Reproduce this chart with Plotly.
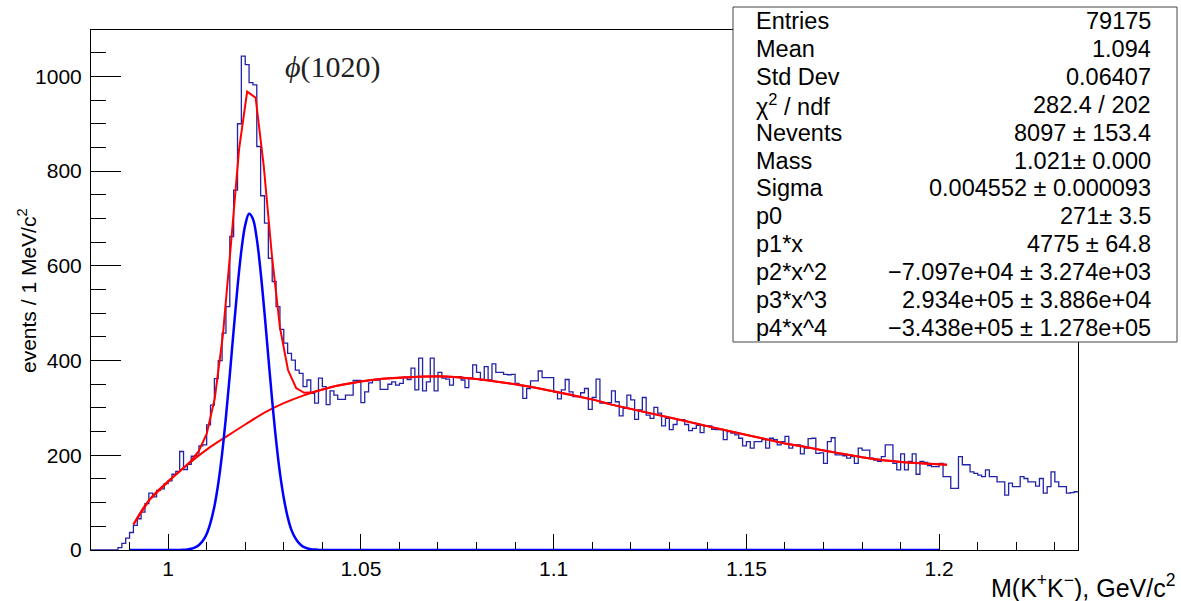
import plotly.graph_objects as go

# ---- histogram: M(K+K-) in 1 MeV bins from 0.980 to 1.236 GeV ----
BIN_LO = 0.980
BIN_W = 0.001
COUNTS = [
    0, 0, 0, 0, 0, 0, 0, 5, 14, 25,
    37, 52, 66, 80, 98, 120, 112, 126, 129, 140,
    146, 160, 166, 208, 170, 181, 198, 200, 220, 222,
    264, 306, 362, 400, 458, 514, 662, 760, 900, 1043,
    1025, 987, 982, 852, 748, 690, 616, 567, 514, 466,
    437, 415, 401, 380, 373, 345, 359, 331, 310, 363,
    345, 307, 336, 327, 318, 318, 327, 327, 358, 358,
    311, 334, 353, 359, 359, 339, 339, 350, 355, 348,
    352, 365, 360, 384, 338, 405, 336, 355, 405, 336,
    375, 363, 361, 348, 366, 366, 359, 343, 363, 391,
    375, 359, 387, 359, 393, 375, 375, 371, 370, 371,
    352, 347, 320, 341, 357, 357, 378, 364, 364, 364,
    334, 319, 338, 360, 334, 324, 324, 332, 341, 297,
    322, 361, 310, 311, 311, 336, 313, 283, 299, 327,
    317, 276, 296, 322, 285, 278, 301, 289, 262, 278,
    254, 265, 275, 275, 265, 252, 257, 263, 248, 262,
    262, 255, 254, 254, 233, 250, 247, 243, 236, 220,
    229, 215, 229, 229, 233, 215, 236, 233, 222, 229,
    240, 215, 222, 222, 203, 215, 235, 236, 204, 205,
    183, 229, 237, 201, 201, 199, 194, 197, 183, 215,
    211, 211, 194, 190, 187, 197, 222, 222, 183, 169,
    203, 169, 187, 203, 160, 187, 185, 178, 176, 176,
    183, 155, 155, 130, 130, 197, 180, 180, 165, 162,
    158, 155, 169, 155, 155, 144, 144, 116, 141, 134,
    134, 155, 151, 144, 144, 135, 151, 120, 134, 165,
    144, 134, 134, 120, 121, 123,
]

# ---- total fit (red), sampled like the original function ----
FIT_X = [
    0.9910, 0.9931, 0.9952, 0.9973, 0.9994, 1.0016, 1.0037, 1.0058, 1.0079, 1.0100,
    1.0121, 1.0142, 1.0163, 1.0184, 1.0205, 1.0227, 1.0248, 1.0269, 1.0290, 1.0311,
    1.0332, 1.0353, 1.0374, 1.0395, 1.0416, 1.0438, 1.0459,
    1.050, 1.055, 1.060, 1.065, 1.070, 1.075, 1.080, 1.085, 1.090, 1.095,
    1.100, 1.105, 1.110, 1.115, 1.120, 1.125, 1.130, 1.135, 1.140, 1.145,
    1.150, 1.155, 1.160, 1.165, 1.170, 1.175, 1.180, 1.185, 1.190, 1.195,
    1.200, 1.202,
]
FIT_Y = [
    54, 81, 106, 123, 140, 156, 171, 187, 208, 245,
    320, 453, 646, 846, 968, 955, 811, 624, 470, 380,
    342, 332, 333, 337, 342, 347, 350,
    356, 361, 364, 366, 367, 365, 361, 356, 350, 343,
    335, 327, 318, 307, 298, 289, 280, 271, 261, 252,
    243, 234, 225, 218, 210, 203, 196, 190, 186, 183,
    181, 180,
]

# ---- background polynomial (red) ----
BKG_X = [
    0.991, 0.995, 1.000, 1.005, 1.010, 1.015, 1.020, 1.025, 1.030, 1.035,
    1.040, 1.045, 1.050, 1.055, 1.060, 1.065, 1.070, 1.075, 1.080, 1.085,
    1.090, 1.095, 1.100, 1.105, 1.110, 1.115, 1.120, 1.125, 1.130, 1.135,
    1.140, 1.145, 1.150, 1.155, 1.160, 1.165, 1.170, 1.175, 1.180, 1.185,
    1.190, 1.195, 1.200, 1.202,
]
BKG_Y = [
    54, 105, 145, 180, 212, 239, 265, 290, 310, 326,
    339, 349, 356, 361, 364, 366, 367, 365, 361, 356,
    350, 343, 335, 327, 318, 307, 298, 289, 280, 271,
    261, 252, 243, 234, 225, 218, 210, 203, 196, 190,
    186, 183, 181, 180,
]

# ---- signal gaussian (blue) ----
SIG_X = [
    0.990, 1.000, 1.003, 1.004, 1.005, 1.006, 1.007, 1.008, 1.009, 1.010,
    1.011, 1.012, 1.013, 1.014, 1.015, 1.016, 1.017, 1.018, 1.019, 1.020,
    1.021, 1.022, 1.023, 1.024, 1.025, 1.026, 1.027, 1.028, 1.029, 1.030,
    1.031, 1.032, 1.033, 1.034, 1.035, 1.036, 1.037, 1.038, 1.039, 1.040,
    1.200,
]
SIG_Y = [
    0, 0, 0.2, 0.6, 1.3, 2.7, 5.5, 10.6, 19.5, 34,
    58, 92, 140, 203, 281, 370, 464, 555, 632, 686,
    710, 699, 657, 587, 501, 407, 315, 232, 163, 110,
    70, 42, 25, 14, 7, 3.6, 1.7, 0.8, 0.3, 0,
    0,
]

STATS = [
    ("Entries", "79175"),
    ("Mean", "1.094"),
    ("Std Dev", "0.06407"),
    ("\u03c7<sup>2</sup> / ndf", "282.4 / 202"),
    ("Nevents", "8097 \u00b1 153.4"),
    ("Mass", "1.021\u00b1 0.000"),
    ("Sigma", "0.004552 \u00b1 0.000093"),
    ("p0", "271\u00b1 3.5"),
    ("p1*x", "4775 \u00b1 64.8"),
    ("p2*x^2", "\u22127.097e+04 \u00b1 3.274e+03"),
    ("p3*x^3", "2.934e+05 \u00b1 3.886e+04"),
    ("p4*x^4", "\u22123.438e+05 \u00b1 1.278e+05"),
]

FONT = "Liberation Sans, Arial, Helvetica, sans-serif"
W, H = 1181, 601
ML, MR, MT, MB = 91, 103, 30, 51
PW, PH = W - ML - MR, H - MT - MB


def px_x(px):
    return (px - ML) / PW


def px_y(py):
    return (H - MB - py) / PH


edges = [BIN_LO + i * BIN_W for i in range(len(COUNTS) + 1)]
steps = COUNTS + [COUNTS[-1]]

fig = go.Figure()
fig.add_trace(go.Scatter(x=edges, y=steps, mode="lines", line_shape="hv",
                         line=dict(color="#2323a8", width=1.3)))
fig.add_trace(go.Scatter(x=BKG_X, y=BKG_Y, mode="lines", line_shape="spline",
                         line=dict(color="#ff0000", width=2)))
fig.add_trace(go.Scatter(x=FIT_X, y=FIT_Y, mode="lines",
                         line=dict(color="#ff0000", width=2)))
fig.add_trace(go.Scatter(x=SIG_X, y=SIG_Y, mode="lines", line_shape="spline",
                         line=dict(color="#0000ff", width=2.5)))

# stats box
fig.add_shape(type="rect", xref="paper", yref="paper",
              x0=px_x(733), x1=px_x(1177), y0=px_y(342), y1=px_y(7),
              fillcolor="white", line=dict(color="#444", width=1), layer="above")
for k, (lab, val) in enumerate(STATS):
    yc = px_y(20.7 + 27.96 * k)
    fig.add_annotation(xref="paper", yref="paper", x=px_x(754), y=yc,
                       text=lab, showarrow=False, xanchor="left", yanchor="middle",
                       font=dict(family=FONT, size=23.5, color="black"))
    fig.add_annotation(xref="paper", yref="paper", x=px_x(1153), y=yc,
                       text=val, showarrow=False, xanchor="right", yanchor="middle",
                       font=dict(family=FONT, size=23.5, color="black"))

fig.add_annotation(xref="x", yref="y", x=1.0299, y=1020, text="<i>\u03d5</i>(1020)",
                   showarrow=False, xanchor="left", yanchor="middle",
                   font=dict(family="Liberation Serif, DejaVu Serif, serif", size=30, color="#222"))

fig.add_annotation(xref="paper", yref="paper", x=px_x(27), y=px_y(291),
                   text="events / 1 MeV/c<sup>2</sup>", textangle=-90, showarrow=False,
                   xanchor="center", yanchor="middle",
                   font=dict(family=FONT, size=21, color="black"))
fig.add_annotation(xref="paper", yref="paper", x=px_x(1177), y=px_y(586),
                   text="M(K<sup>+</sup>K<sup>\u2212</sup>), GeV/c<sup>2</sup>", showarrow=False,
                   xanchor="right", yanchor="middle",
                   font=dict(family=FONT, size=25, color="black"))

fig.update_layout(
    width=W, height=H,
    margin=dict(l=ML, r=MR, t=MT, b=MB),
    paper_bgcolor="white", plot_bgcolor="white",
    showlegend=False,
    font=dict(family=FONT, color="black", size=21),
    xaxis=dict(range=[0.980, 1.236], dtick=0.05, tick0=1.0,
               ticks="inside", ticklen=16, tickwidth=1, tickcolor="black",
               minor=dict(ticks="inside", ticklen=8, dtick=0.01, tick0=0.98,
                          tickcolor="black", showgrid=False),
               showgrid=False, zeroline=False,
               showline=True, linecolor="black", linewidth=1, mirror=True,
               tickfont=dict(family=FONT, size=21, color="black")),
    yaxis=dict(range=[0, 1098], dtick=200, tick0=0,
               ticks="inside", ticklen=30, tickwidth=1, tickcolor="black",
               minor=dict(ticks="inside", ticklen=15, dtick=50,
                          tickcolor="black", showgrid=False),
               showgrid=False, zeroline=False, ticklabelstandoff=4,
               showline=True, linecolor="black", linewidth=1, mirror=True,
               tickfont=dict(family=FONT, size=21, color="black")),
)

fig.write_html("out.html", config={"displayModeBar": False},
               post_script="document.body.style.margin='0';")
